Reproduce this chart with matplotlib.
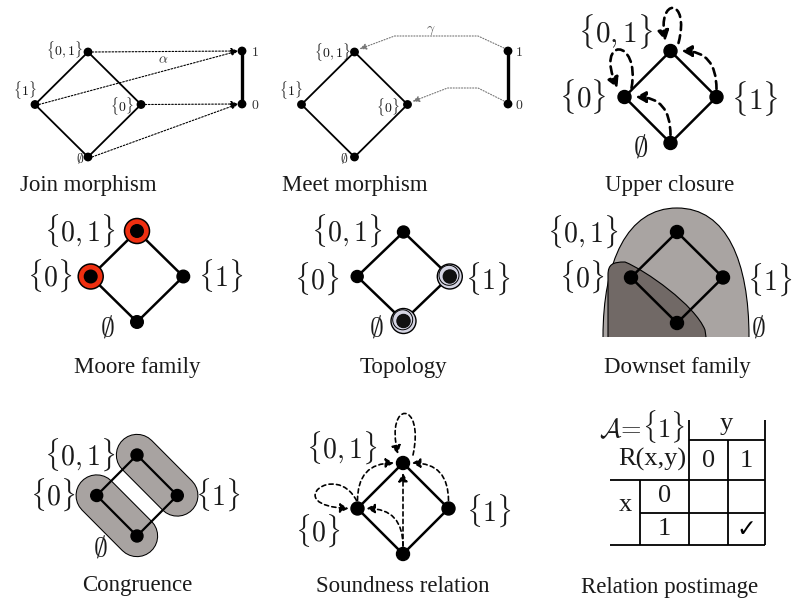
import matplotlib
matplotlib.use('Agg')
import matplotlib.pyplot as plt
from matplotlib.patches import Circle, FancyArrowPatch, PathPatch
from matplotlib.path import Path

plt.rcParams['mathtext.fontset'] = 'cm'

# ---- data: the powerset lattice of {0,1} and what each panel shows on it ----
captions = ['Join morphism', 'Meet morphism', 'Upper closure',
            'Moore family', 'Topology', 'Downset family',
            'Congruence', 'Soundness relation', 'Relation postimage']
elements = ['{0,1}', '{0}', '{1}', 'empty']
tex = {'{0,1}': r'$\{0,1\}$', '{0}': r'$\{0\}$', '{1}': r'$\{1\}$', 'empty': r'$\emptyset$'}
hasse_edges = [('{0,1}', '{0}'), ('{0,1}', '{1}'), ('{0}', 'empty'), ('{1}', 'empty')]
chain = ['1', '0']
join_map = [('{0,1}', '1'), ('{1}', '1'), ('{0}', '0'), ('empty', '0')]
meet_map = [('1', '{0,1}'), ('0', '{0}')]
closure_moves = [('empty', '{0}'), ('{1}', '{0,1}')]
closure_fixed = ['{0,1}', '{0}']
moore_sets = ['{0,1}', '{0}']
open_sets = ['{1}', 'empty']
congruence_classes = [('{0,1}', '{1}'), ('{0}', 'empty')]
sound_pairs = [('{0}', '{0,1}'), ('empty', '{0,1}'), ('empty', '{0}'), ('{1}', '{0,1}')]
sound_loops = ['{0,1}', '{0}']
abstract_value = r'$\mathcal{A}\!=\!\{1\}$'
rel_rows = ['0', '1']
rel_cols = ['0', '1']
rel_checks = [('1', '1')]

INK = '#1a1a1a'
SERIF = 'Liberation Serif'

fig = plt.figure(figsize=(7.95, 6.0), dpi=100)
ax = fig.add_axes([0, 0, 1, 1])
ax.set_xlim(0, 795)
ax.set_ylim(600, 0)
ax.set_aspect('equal')
ax.axis('off')


def diamond(cx, cy, hx, hy, swap=False):
    left, right = ('{1}', '{0}') if swap else ('{0}', '{1}')
    return {'{0,1}': (cx, cy - hy), left: (cx - hx, cy), right: (cx + hx, cy), 'empty': (cx, cy + hy)}


def draw_hasse(pos, lw, r, skip=()):
    for a, b in hasse_edges:
        ax.plot([pos[a][0], pos[b][0]], [pos[a][1], pos[b][1]], color='black', lw=lw,
                solid_capstyle='round', zorder=4)
    for e in elements:
        if e not in skip:
            ax.add_patch(Circle(pos[e], r, color='black', zorder=6))


def put_labels(pos, offsets, size):
    for e, (dx, dy) in offsets.items():
        ax.text(pos[e][0] + dx, pos[e][1] + dy, tex[e], fontsize=size, color=INK,
                ha='center', va='center', zorder=7)


def arrow(verts, codes, lw, dash, color='black', hl=0.6, hw=0.3, ms=10):
    p = FancyArrowPatch(path=Path(verts, codes),
                        arrowstyle=f'-|>,head_length={hl},head_width={hw}',
                        mutation_scale=ms, lw=lw, linestyle=dash, color=color, zorder=5)
    ax.add_patch(p)


L2 = [Path.MOVETO, Path.LINETO]
Q3 = [Path.MOVETO, Path.CURVE3, Path.CURVE3]
C4 = [Path.MOVETO, Path.CURVE4, Path.CURVE4, Path.CURVE4]

# ---- 1. Join morphism ----
p1 = diamond(88, 104.5, 53, 52.5, swap=True)
c1 = {'1': (242, 51), '0': (242, 104)}
draw_hasse(p1, 1.3, 3.7)
ax.plot([c1['1'][0], c1['0'][0]], [c1['1'][1], c1['0'][1]], color='black', lw=2.4, zorder=4)
for k in chain:
    ax.add_patch(Circle(c1[k], 3.7, color='black', zorder=6))
    ax.text(c1[k][0] + 13, c1[k][1] + 1, f'${k}$', fontsize=10, color='#333333', ha='center', va='center')
for a, b in join_map:
    arrow([(p1[a][0] + 4, p1[a][1]), (c1[b][0] - 4, c1[b][1])], L2, 0.8, (0, (1.5, 1.5)),
          hl=0.5, hw=0.22, ms=8)
ax.text(163, 59, r'$\alpha$', fontsize=10, color='#333333', ha='center', va='center')
put_labels(p1, {'{0,1}': (-24, -2), '{1}': (-10, -14), '{0}': (-19, 2), 'empty': (-8, 1)}, 10)

# ---- 2. Meet morphism ----
p2 = diamond(354.5, 104.5, 53, 52.5, swap=True)
c2 = {'1': (508, 51), '0': (508, 104)}
draw_hasse(p2, 1.3, 3.7)
ax.plot([c2['1'][0], c2['0'][0]], [c2['1'][1], c2['0'][1]], color='black', lw=2.4, zorder=4)
for k in chain:
    ax.add_patch(Circle(c2[k], 3.7, color='black', zorder=6))
    ax.text(c2[k][0] + 11, c2[k][1] + 1, f'${k}$', fontsize=10, color='#333333', ha='center', va='center')
for (a, b), lift in zip(meet_map, [15, 16]):
    s, t = c2[a], p2[b]
    arrow([(s[0] - 4, s[1] - 3), (s[0] - 30, s[1] - lift), (t[0] + 40, s[1] - lift), (t[0] + 5, t[1] - 3)],
          [Path.MOVETO, Path.LINETO, Path.LINETO, Path.LINETO], 0.8, (0, (1, 1.5)),
          color='#777777', hl=0.5, hw=0.22, ms=8)
ax.text(431, 30, r'$\gamma$', fontsize=10, color='#555555', ha='center', va='center')
put_labels(p2, {'{0,1}': (-22, 0), '{1}': (-11, -14), '{0}': (-20, 3), 'empty': (-10, 1)}, 10)

# ---- 3. Upper closure ----
p3 = diamond(670.5, 97, 46, 46)
draw_hasse(p3, 1.8, 6.5)
dash3 = (0, (3, 2))
for a, b in closure_moves:
    s, t = p3[a], p3[b]
    arrow([(s[0], s[1] - 8), (s[0], t[1]), (t[0] + 11 * (1 if s[0] >= t[0] else -1), t[1])], Q3, 1.9, dash3,
          hl=0.55, hw=0.3, ms=11)
x, y = p3['{0,1}']
arrow([(x + 8, y - 8), (x + 20, y - 54), (x - 14, y - 54), (x - 5, y - 10)], C4, 1.9, dash3,
      hl=0.55, hw=0.3, ms=11)
x, y = p3['{0}']
arrow([(x + 7, y - 9), (x + 16, y - 60), (x - 30, y - 60), (x - 7, y - 9)], C4, 1.9, dash3,
      hl=0.55, hw=0.3, ms=11)
put_labels(p3, {'{0,1}': (-55, -19), '{0}': (-42, 0), '{1}': (38, 1), 'empty': (-30, 4)}, 21)

# ---- 4. Moore family ----
p4 = diamond(137, 276.5, 46.3, 45.5)
for e in moore_sets:
    ax.add_patch(Circle(p4[e], 12.5, facecolor='#ef2f10', edgecolor='black', lw=1.1, zorder=5))
draw_hasse(p4, 1.8, 6.3)
put_labels(p4, {'{0,1}': (-57, 0), '{0}': (-41, 0), '{1}': (37, 0), 'empty': (-30, 5)}, 20)

# ---- 5. Topology ----
p5 = diamond(403.5, 276.5, 46.3, 44.5)
draw_hasse(p5, 1.8, 6.0)
for e in open_sets:
    x, y = p5[e]
    ax.add_patch(Circle((x, y), 12.5, facecolor='#d5d5e3', edgecolor='black', lw=1.0, zorder=5))
    ax.add_patch(Circle((x - 0.8, y - 1.2), 10, facecolor='none', edgecolor='black', lw=0.7, zorder=5))
    ax.add_patch(Circle((x, y), 6.5, color='#111111', zorder=6))
put_labels(p5, {'{0,1}': (-57, -1), '{0}': (-41, 3), '{1}': (38, 3), 'empty': (-27, 7)}, 20)

# ---- 6. Downset family ----
p6 = diamond(677, 277.5, 46, 45.5)
base = p6['empty'][1] + 14
lx, rx, top, mx = p6['{0}'][0] - 28, p6['{1}'][0] + 26, p6['{0,1}'][1] - 24, p6['{0,1}'][0]
dome = [(lx, base), (lx, base - 75), (mx - 50, top), (mx, top),
        (mx + 50, top), (rx, base - 75), (rx, base)]
dome_codes = [Path.MOVETO] + [Path.CURVE4] * 6
ax.add_patch(PathPatch(Path(dome + [(lx, base)], dome_codes + [Path.CLOSEPOLY]),
                       facecolor='#a9a4a2', edgecolor='none', zorder=2))
ax.add_patch(PathPatch(Path(dome, dome_codes), facecolor='none', edgecolor='black', lw=0.8, zorder=2))
ix = p6['{0}'][0] - 23
blob = [(ix, base), (ix, base - 62), (ix, base - 73), (ix + 5, base - 75), (ix + 17, base - 75),
        (ix + 37, base - 67), (ix + 87, base - 32), (ix + 97, base - 7), (ix + 98, base)]
blob_codes = [Path.MOVETO, Path.LINETO, Path.CURVE4, Path.CURVE4, Path.CURVE4,
              Path.CURVE4, Path.CURVE4, Path.CURVE4, Path.LINETO]
ax.add_patch(PathPatch(Path(blob + [(ix, base)], blob_codes + [Path.CLOSEPOLY]),
                       facecolor='#716966', edgecolor='none', zorder=3))
ax.add_patch(PathPatch(Path(blob, blob_codes), facecolor='none', edgecolor='black', lw=0.8, zorder=3))
draw_hasse(p6, 1.8, 6.5)
put_labels(p6, {'{0,1}': (-94, 0), '{0}': (-49, 0), '{1}': (47, 3), 'empty': (81, 4)}, 20)

# ---- 7. Congruence ----
p7 = diamond(137, 495.5, 40.3, 40.5)
for a, b in congruence_classes:
    xs, ys = [p7[a][0], p7[b][0]], [p7[a][1], p7[b][1]]
    ax.plot(xs, ys, color='black', lw=30.5, solid_capstyle='round', zorder=2)
    ax.plot(xs, ys, color='#a8a3a1', lw=29.0, solid_capstyle='round', zorder=2)
draw_hasse(p7, 1.6, 6.0)
put_labels(p7, {'{0,1}': (-57, 0), '{0}': (-44, 0), '{1}': (40, 0), 'empty': (-37, 12)}, 20)

# ---- 8. Soundness relation ----
p8 = diamond(403, 508.5, 45.5, 45.5)
draw_hasse(p8, 1.8, 6.5)
dash8 = (0, (2.5, 2))
for a, b in sound_pairs:
    s, t = p8[a], p8[b]
    if s[0] == t[0]:
        arrow([(s[0], s[1] - 8), (t[0], t[1] + 10)], L2, 1.2, dash8, hl=0.5, hw=0.28, ms=10)
    else:
        side = 1 if s[0] >= t[0] else -1
        arrow([(s[0], s[1] - 8), (s[0], t[1]), (t[0] + 9 * side, t[1])], Q3, 1.2, dash8,
              hl=0.5, hw=0.28, ms=10)
x, y = p8['{0,1}']
arrow([(x + 10, y - 8), (x + 22, y - 63), (x - 18, y - 63), (x - 5, y - 9)], C4, 1.2, dash8,
      hl=0.5, hw=0.28, ms=10)
x, y = p8['{0}']
arrow([(x - 1, y - 8), (x - 22, y - 48), (x - 77, y - 3), (x - 9, y)], C4, 1.2, dash8,
      hl=0.5, hw=0.28, ms=10)
put_labels(p8, {'{0,1}': (-61, -15), '{0}': (-40, 23), '{1}': (40, 3)}, 20)

# ---- 9. Relation postimage ----
xa, xb, xc, xd, xe = 610, 640, 689, 727.5, 764.5
ya, yb, yc, yd, ye = 420, 440, 479.5, 512.5, 545
tbl = dict(color='black', lw=1.3, zorder=4, solid_capstyle='butt')
ax.plot([xc, xc], [ya, ye], **tbl)
ax.plot([xe, xe], [ya, ye], **tbl)
ax.plot([xd, xd], [yb, ye], **tbl)
ax.plot([xb, xb], [yc, ye], **tbl)
ax.plot([xc, xe], [yb, yb], **tbl)
ax.plot([xa, xe], [yc, yc], **tbl)
ax.plot([xb, xe], [yd, yd], **tbl)
ax.plot([xa, xe], [ye, ye], **tbl)
tfont = dict(family=SERIF, fontsize=19, color=INK, ha='center', va='center')
ax.text(xc - 4, 427, abstract_value, fontsize=19, color=INK, ha='right', va='center')
ax.text((xc + xe) / 2, 424, 'y', **tfont)
ax.text(xc - 3, 459, 'R(x,y)', family=SERIF, fontsize=19, color=INK, ha='right', va='center')
ax.text((xa + xb) / 2, 505, 'x', **tfont)
for cx, c in zip([(xc + xd) / 2, (xd + xe) / 2], rel_cols):
    ax.text(cx, 461, c, **tfont)
for cy, r in zip([(yc + yd) / 2, (yd + ye) / 2], rel_rows):
    ax.text((xb + xc) / 2, cy, r, **tfont)
for r, c in rel_checks:
    cx = [(xc + xd) / 2, (xd + xe) / 2][rel_cols.index(c)]
    cy = [(yc + yd) / 2, (yd + ye) / 2][rel_rows.index(r)]
    ax.text(cx, cy, '\u2713', family='DejaVu Sans', fontsize=17, color='black', ha='center', va='center')

# ---- captions ----
cap_x = [88, 355, 670, 137, 403, 677, 137, 403, 670]
cap_y = [185, 185, 185, 368, 368, 368, 586, 587, 587]
for t, cx, cy in zip(captions, cap_x, cap_y):
    ax.text(cx, cy, t, family=SERIF, fontsize=16.5, color=INK, ha='center', va='center')

fig.savefig('out.png', dpi=100)
